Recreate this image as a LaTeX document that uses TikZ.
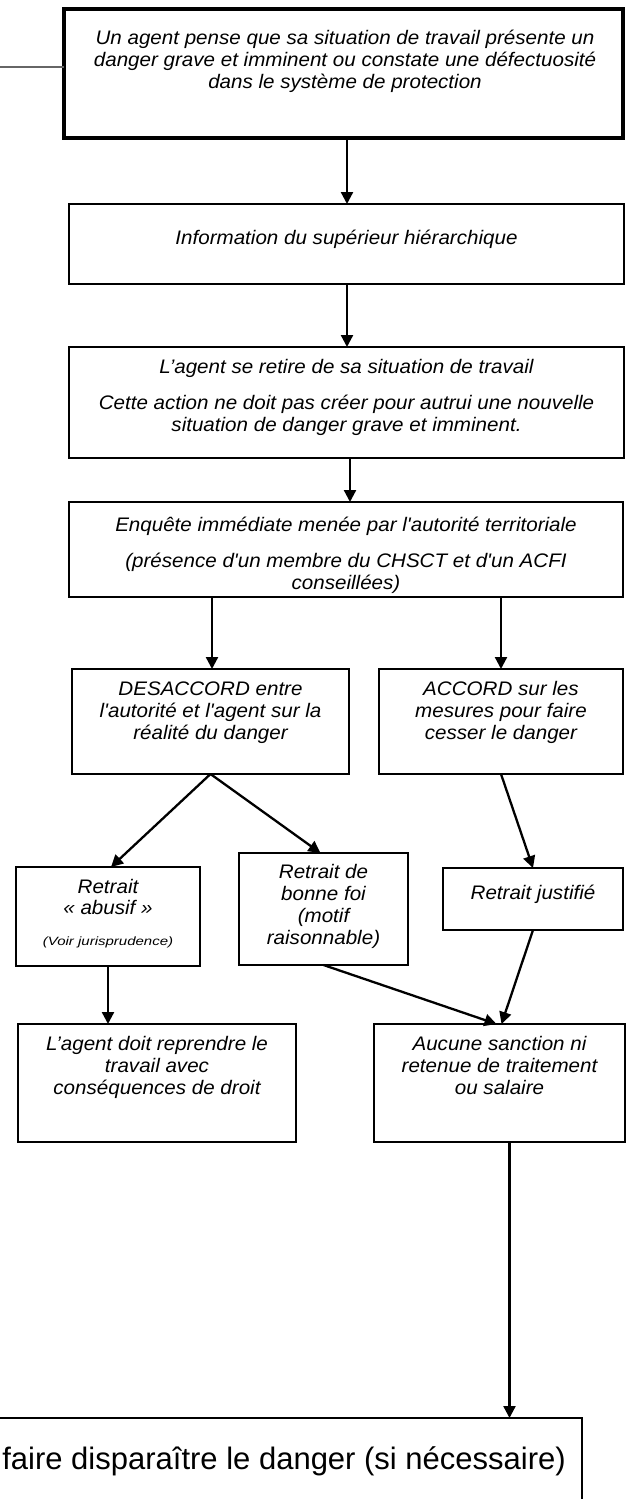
\documentclass[tikz,border=0pt]{standalone}
\usepackage{fontspec}
\setmainfont{Liberation Sans}
\newfontfamily\bxf{Liberation Sans}[FakeStretch=1.05]
\newfontfamily\smf{Liberation Sans}[FakeStretch=1.25]
\usetikzlibrary{arrows.meta,calc}
\begin{document}
\begin{tikzpicture}[x=1pt,y=-1pt,
  box/.style={draw, line width=1.9pt, rectangle, inner sep=0pt, outer sep=0pt},
  thickbox/.style={box, line width=4pt},
  txt/.style={anchor=base, inner sep=0pt, font=\bxf\itshape\fontsize{19.6}{22}\selectfont},
  smalltxt/.style={anchor=base, inner sep=0pt, font=\smf\itshape\fontsize{12}{14}\selectfont},
  bigtxt/.style={anchor=base east, inner sep=0pt, font=\fontsize{31}{36}\selectfont},
  arr/.style={line width=2.3pt, -{Triangle[length=12pt,width=12pt]}},
  feed/.style={line width=2.6pt, black!60},
]
\useasboundingbox (0,0) rectangle (630,1499);
\clip (0,0) rectangle (630,1499);

% boxes
\node[thickbox, minimum width=559pt, minimum height=129pt] (b1) at (343.5,73.5) {};
\node[box, minimum width=555pt, minimum height=80pt] (b2) at (346.5,244) {};
\node[box, minimum width=555pt, minimum height=111pt] (b3) at (346.5,402.5) {};
\node[box, minimum width=554pt, minimum height=95pt] (b4) at (346,549.5) {};
\node[box, minimum width=277pt, minimum height=105pt] (b5) at (210.5,721.5) {};
\node[box, minimum width=244pt, minimum height=105pt] (b6) at (501,721.5) {};
\node[box, minimum width=184pt, minimum height=99pt] (b7) at (108,916.5) {};
\node[box, minimum width=169pt, minimum height=112pt] (b8) at (323.5,909) {};
\node[box, minimum width=180pt, minimum height=62pt] (b9) at (533,899) {};
\node[box, minimum width=278pt, minimum height=118pt] (b10) at (157,1083) {};
\node[box, minimum width=251pt, minimum height=118pt] (b11) at (499.5,1083) {};
\node[box, minimum width=882pt, minimum height=142pt] (fb) at (141,1489) {};

% texts
\node[txt] (t1a) at (345,44) {Un agent pense que sa situation de travail présente un};
\node[txt] (t1b) at (345,66) {danger grave et imminent ou constate une défectuosité};
\node[txt] (t1c) at (345,88) {dans le système de protection};

\node[txt] (t2) at (346.5,244) {Information du supérieur hiérarchique};

\node[txt] (t3a) at (346.5,373) {L’agent se retire de sa situation de travail};
\node[txt] (t3b) at (346.5,409) {Cette action ne doit pas créer pour autrui une nouvelle};
\node[txt] (t3c) at (346.5,431) {situation de danger grave et imminent.};

\node[txt] (t4a) at (346,531) {Enquête immédiate menée par l'autorité territoriale};
\node[txt] (t4b) at (346,567) {(présence d'un membre du CHSCT et d'un ACFI};
\node[txt] (t4c) at (346,589) {conseillées)};

\node[txt] (t5a) at (210.5,695) {DESACCORD entre};
\node[txt] (t5b) at (210.5,717) {l'autorité et l'agent sur la};
\node[txt] (t5c) at (210.5,739) {réalité du danger};

\node[txt] (t6a) at (501,695) {ACCORD sur les};
\node[txt] (t6b) at (501,717) {mesures pour faire};
\node[txt] (t6c) at (501,739) {cesser le danger};

\node[txt] (t7a) at (108,893) {Retrait};
\node[txt] (t7b) at (108,914) {« abusif »};
\node[smalltxt] (t7c) at (108,945) {(Voir jurisprudence)};

\node[txt] (t8a) at (323.5,878) {Retrait de};
\node[txt] (t8b) at (323.5,900) {bonne foi};
\node[txt] (t8c) at (323.5,922) {(motif};
\node[txt] (t8d) at (323.5,944) {raisonnable)};

\node[txt] (t9) at (533,899) {Retrait justifié};

\node[txt] (t10a) at (157,1050) {L’agent doit reprendre le};
\node[txt] (t10b) at (157,1072) {travail avec};
\node[txt] (t10c) at (157,1094) {conséquences de droit};

\node[txt] (t11a) at (499.5,1050) {Aucune sanction ni};
\node[txt] (t11b) at (499.5,1072) {retenue de traitement};
\node[txt] (t11c) at (499.5,1094) {ou salaire};

\node[bigtxt] (tf) at (566,1469) {faire disparaître le danger (si nécessaire)};

% connectors
\coordinate (lft) at (0,67);
\draw[feed] (lft) -- (lft -| b1.west);
\coordinate (a1) at (347,0);
\coordinate (a3) at (350,0);
\coordinate (aL) at (212,0);
\draw[arr] (b1.south -| a1) -- (b2.north -| a1);
\draw[arr] (b2.south -| a1) -- (b3.north -| a1);
\draw[arr] (b3.south -| a3) -- (b4.north -| a3);
\draw[arr] (b4.south -| aL) -- (b5.north -| aL);
\draw[arr] (b4.south -| b6.north) -- (b6.north);
\draw[arr] (b5.south) -- ($(b7.north)+(3,0)$);
\draw[arr] (b5.south) -- ($(b8.north)+(-3,0)$);
\draw[arr] (b6.south) -- (b9.north);
\draw[arr] (b7.south) -- (b7.south |- b10.north);
\draw[arr] (b8.south) -- ($(b11.north)+(-3,0)$);
\draw[arr] (b9.south) -- ($(b11.north)+(2,0)$);
\coordinate (c11) at ($(b11.south)+(10,0)$);
\draw[arr] (c11) -- (c11 |- fb.north);
\end{tikzpicture}
\end{document}
